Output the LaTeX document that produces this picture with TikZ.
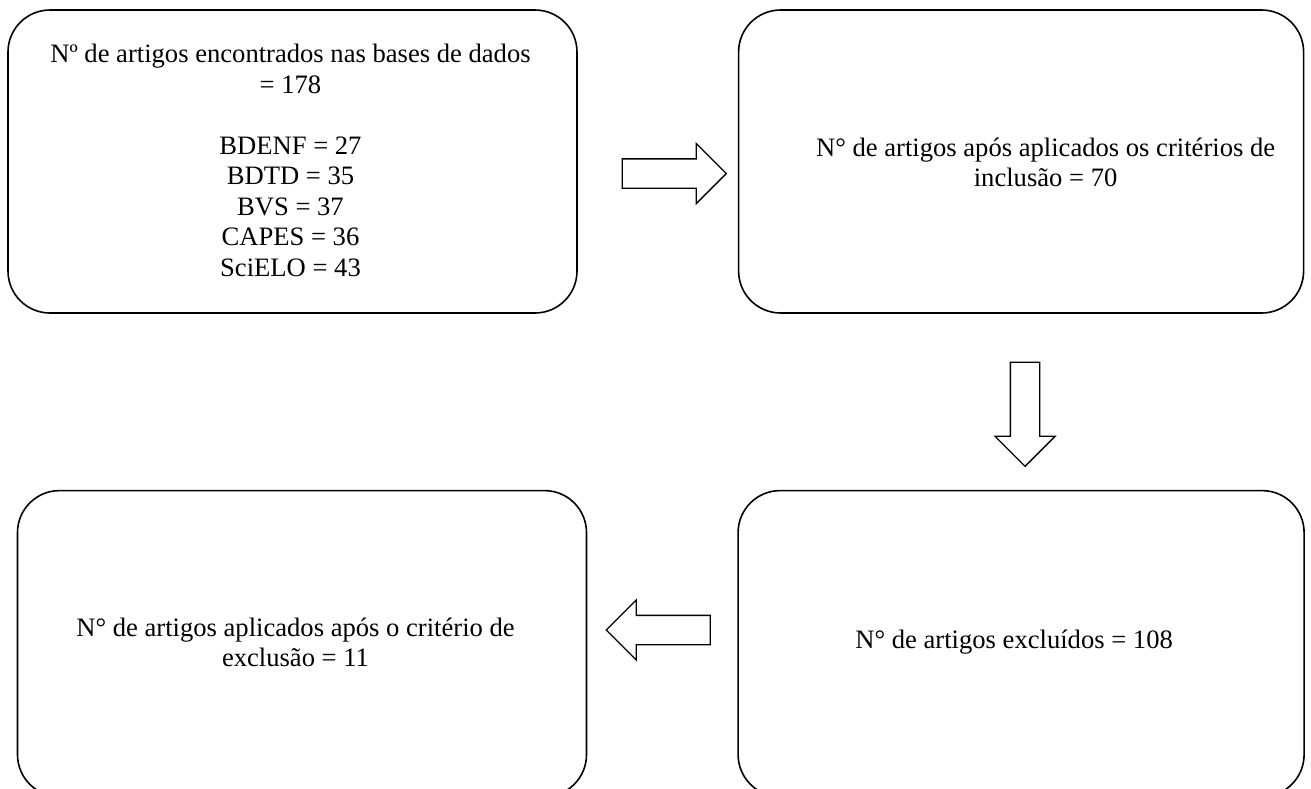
\documentclass[tikz,border=0pt]{standalone}
\usepackage{fontspec}
\setmainfont{Liberation Serif}
\usetikzlibrary{positioning}
\usetikzlibrary{shapes.arrows}

\tikzset{
  etapa/.style={draw, line width=1.6pt, rounded corners=42pt, inner sep=0pt},
  texto/.style={align=center, inner sep=0pt, font=\fontsize{26.6}{30.5}\selectfont},
  seta/.style={draw, line width=1.3pt, single arrow, single arrow head extend=15.5pt,
    inner sep=14pt, minimum height=104pt}
}

\begin{document}
\begin{tikzpicture}[x=1pt, y=-1pt]
  \useasboundingbox (0,0) rectangle (1311,788);
  % Define boxes
  \node[etapa, minimum width=569pt, minimum height=303pt] at (292.5,161.5) (busca) {};
  \node[etapa, minimum width=565pt, minimum height=303pt, right=160pt of busca] (inclusao) {};
  \node[etapa, minimum width=566pt, minimum height=306pt, below=176pt of inclusao] (excluidos) {};
  \node[etapa, minimum width=569pt, minimum height=306pt, left=150pt of excluidos] (final) {};
  % Define texts
  \node[texto] at ([xshift=-2pt, yshift=1pt]busca.center) (buscatxt)
    {Nº de artigos encontrados nas bases de dados\\= 178\\[30.5pt]
     BDENF = 27\\BDTD = 35\\BVS = 37\\CAPES = 36\\SciELO = 43};
  \node[texto] at ([xshift=24.5pt, yshift=-1pt]inclusao.center) (inclusaotxt)
    {N° de artigos após aplicados os critérios de\\inclusão = 70};
  \node[texto] at ([xshift=-7pt, yshift=1pt]excluidos.center) (excluidostxt)
    {N° de artigos excluídos = 108};
  \node[texto] at ([xshift=-6.5pt, yshift=1pt]final.center) (finaltxt)
    {N° de artigos aplicados após o critério de\\exclusão = 11};
  % Define arrows
  \node[seta] at (667,173.5) (seta1) {};
  \node[seta, shape border rotate=270] at (1025,407) (seta2) {};
  \node[seta, shape border rotate=180] at (665.5,630) (seta3) {};
\end{tikzpicture}
\end{document}
